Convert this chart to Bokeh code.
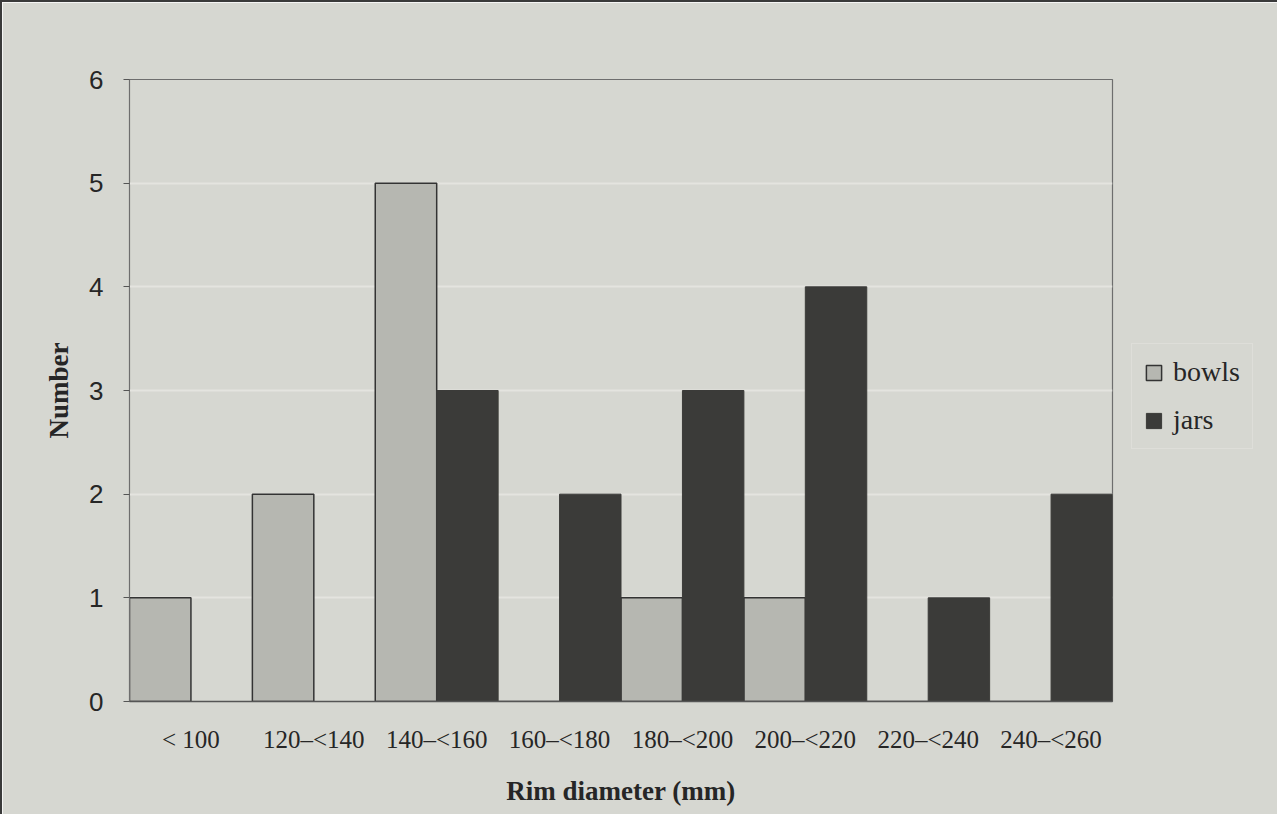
from bokeh.plotting import figure
from bokeh.models import FactorRange, Range1d, FixedTicker, Legend, LegendItem, ColumnDataSource
from bokeh.transform import dodge
from bokeh.embed import file_html
from bokeh.resources import INLINE

categories = ["< 100", "120\u2013<140", "140\u2013<160", "160\u2013<180",
              "180\u2013<200", "200\u2013<220", "220\u2013<240", "240\u2013<260"]
bowls = [1, 2, 5, 0, 1, 1, 0, 0]
jars = [0, 0, 3, 2, 3, 4, 1, 2]
y_ticks = [0, 1, 2, 3, 4, 5, 6]

BG = "#d6d7d1"
TXT = "#262626"

src = ColumnDataSource(dict(cat=categories, bowls=bowls, jars=jars))

p = figure(x_range=FactorRange(*categories), y_range=Range1d(0, 6),
           frame_width=983, frame_height=622, output_backend="svg", toolbar_location=None,
           background_fill_color=BG, border_fill_color=BG,
           min_border_left=127, min_border_top=77, min_border_right=149, min_border_bottom=113)
p.styles = {"border-left": "2px solid #3a3a3a", "border-top": "2px solid #3a3a3a"}

r_b = p.vbar(x=dodge("cat", -0.25, range=p.x_range), top="bowls", width=0.5, source=src,
             fill_color="#b6b7b1", line_color="#333333", line_width=1.5)
r_j = p.vbar(x=dodge("cat", 0.25, range=p.x_range), top="jars", width=0.5, source=src,
             fill_color="#3b3b39", line_color="#3b3b39", line_width=1)

p.outline_line_color = "#6e6e6e"
p.outline_line_width = 1.2

p.xgrid.grid_line_color = None
p.ygrid.grid_line_color = "#e4e4df"
p.ygrid.grid_line_width = 2
p.ygrid.level = "underlay"

ya = p.yaxis[0]
ya.ticker = FixedTicker(ticks=y_ticks)
ya.minor_tick_line_color = None
ya.major_tick_in = 0
ya.major_tick_out = 6
ya.major_tick_line_color = "#555555"
ya.axis_line_color = "#6e6e6e"
ya.major_label_standoff = 20
ya.major_label_text_font = "Liberation Sans"
ya.major_label_text_font_size = "26px"
ya.major_label_text_color = TXT
ya.axis_label = "Number"
ya.axis_label_text_font = "Liberation Serif"
ya.axis_label_text_font_style = "bold"
ya.axis_label_text_font_size = "27px"
ya.axis_label_text_color = TXT
ya.axis_label_standoff = 12

xa = p.xaxis[0]
xa.major_tick_line_color = None
xa.minor_tick_line_color = None
xa.axis_line_color = "#555555"
xa.axis_line_width = 1.5
xa.major_label_standoff = 18
xa.major_label_text_font = "Liberation Serif"
xa.major_label_text_font_size = "25px"
xa.major_label_text_color = TXT
xa.axis_label = "Rim diameter (mm)"
xa.axis_label_text_font = "Liberation Serif"
xa.axis_label_text_font_style = "bold"
xa.axis_label_text_font_size = "27px"
xa.axis_label_text_color = TXT
xa.axis_label_standoff = 20

legend = Legend(items=[LegendItem(label="bowls", renderers=[r_b]),
                       LegendItem(label="jars", renderers=[r_j])],
                location=(19, 252), orientation="vertical",
                background_fill_color=BG, background_fill_alpha=1,
                border_line_color="#e6e6e1", border_line_width=1.5,
                label_text_font="Liberation Serif", label_text_font_size="28px",
                label_text_color=TXT, glyph_width=19, glyph_height=19,
                label_height=32, spacing=16, padding=12, margin=19, label_standoff=10)
p.add_layout(legend, "right")

open("out.html", "w").write(file_html(p, INLINE))
